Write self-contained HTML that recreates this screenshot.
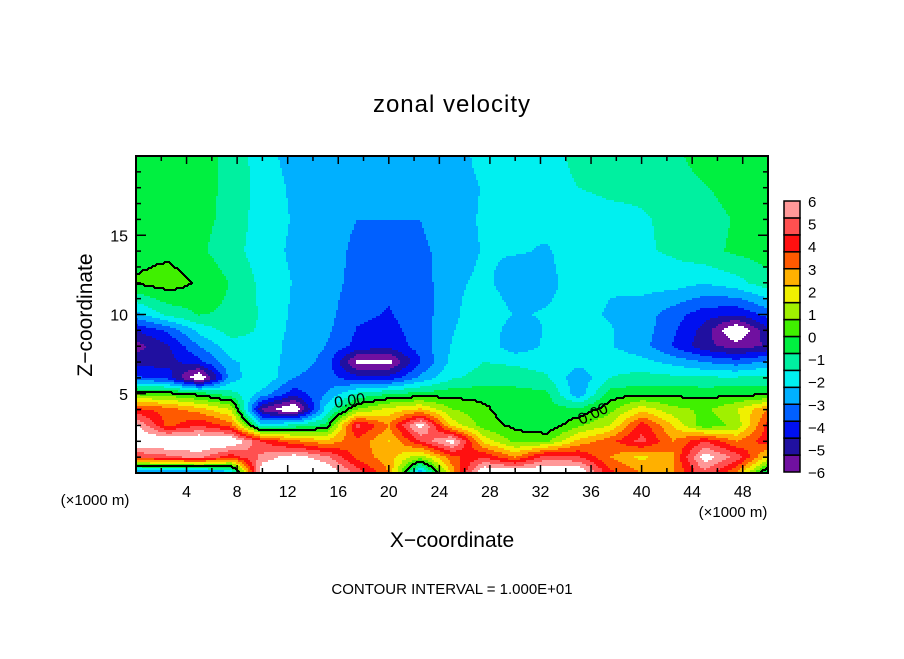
<!DOCTYPE html>
<html><head><meta charset="utf-8">
<style>
body{margin:0;background:#fff;}
svg text{font-family:"Liberation Sans",sans-serif;fill:#000;}
</style></head>
<body>
<svg id="chart" width="904" height="654" viewBox="0 0 904 654" xmlns="http://www.w3.org/2000/svg">
<rect width="904" height="654" fill="#fff"/>
<text x="452" y="112" font-size="24" text-anchor="middle" letter-spacing="1">zonal velocity</text>
<g id="field"></g>
<path id="zero" fill="none" stroke="#000" stroke-width="2"/>
<text x="335" y="408" font-size="16" transform="rotate(-8 335 408)">0.00</text>
<text x="581" y="425" font-size="16" transform="rotate(-25 581 425)">0.00</text>
<rect x="136" y="156" width="632" height="317" fill="none" stroke="#000" stroke-width="2"/>
<g id="ticks"></g>
<g id="xlabels"></g>
<g id="ylabels"></g>
<text x="452" y="547" font-size="21" text-anchor="middle">X−coordinate</text>
<text x="92" y="315" font-size="21" text-anchor="middle" transform="rotate(-90 92 315)">Z−coordinate</text>
<text x="95" y="505" font-size="15" text-anchor="middle">(×1000 m)</text>
<text x="733" y="517" font-size="15" text-anchor="middle">(×1000 m)</text>
<text x="452" y="594" font-size="15" text-anchor="middle">CONTOUR INTERVAL = 1.000E+01</text>
<g id="cbar"></g>
</svg>
<script>
const xs=[0,2.5,5,7.5,10,12.5,15,17.5,20,22.5,25,27.5,30,32.5,35,37.5,40,42.5,45,47.5,50];
const zs=[0,1,2,3,4,5,6,7,8,9,10,12,14,16,18,20];
const field=[
[-4,-4,-4,-3,7,7,7,5,3,-3,2.5,7,7,7,7,4,3,3,5,3,-1],
[4.5,5,5.5,4,5.5,6.5,5.5,3.5,2.6,1,3.5,4.5,3,5,4.6,3,2,3,6.5,5,2],
[7,7,7,7,4.5,3.2,2.5,3.5,2.2,4.5,6.5,2,0.5,0.6,2.5,3.5,4.8,3,4.5,3,4.2],
[6.2,3.5,4.5,3.4,-2,-1.2,-0.6,4.8,3,6.5,2,0.4,-0.2,-0.6,0.6,1.5,4.2,2.2,0.2,1,4],
[4,3.4,2.6,1.5,-5.5,-7,-2,0.8,1.8,2.4,0.8,0.2,-0.6,-0.4,-0.6,0.5,2,1,0.6,1.5,3],
[0.5,0.3,-0.3,-1.2,-2.5,-4.2,-3,-1.4,-0.8,-0.5,-0.3,-0.3,-0.4,-0.6,-2.8,-0.4,-0.2,-0.2,-0.3,-0.2,-0.2],
[-3.6,-4,-7,-2.6,-1.6,-3,-3.4,-4.2,-4.2,-2.8,-1.6,-1.2,-1.2,-1.4,-2.8,-1.5,-1.2,-1.3,-1.4,-1.4,-1.2],
[-4.8,-4.8,-4,-2.4,-1.8,-2.6,-3.2,-6.3,-6.3,-3.8,-2,-1.5,-1.6,-1.8,-2,-1.8,-2,-2.5,-3,-3.4,-2.8],
[-5.6,-4.6,-3,-1.8,-1.7,-2.6,-3,-4,-4.3,-3.4,-2.2,-1.7,-2.8,-2.1,-1.8,-2.2,-2.7,-3.8,-5,-5.6,-5.2],
[-4.5,-3.6,-2,-1.2,-1.6,-2.5,-2.8,-3.8,-4,-3.4,-2.3,-1.8,-2.6,-2.2,-2,-2.2,-2.6,-3.6,-4.8,-7,-4.6],
[-2.5,-1.3,-0.7,-0.9,-1.6,-2.4,-2.7,-3.6,-3.8,-3.4,-2.4,-1.8,-2.3,-2.2,-2.1,-2.3,-2.6,-3.4,-4.2,-4.4,-3.5],
[0.1,0.4,-0.1,-0.8,-1.7,-2.3,-2.6,-3.3,-3.6,-3.4,-2.4,-2.1,-2.6,-2.4,-2,-2.2,-2,-1.9,-2.2,-1.8,-1],
[-0.3,-0.2,-0.6,-1.2,-1.9,-2.4,-2.6,-3.2,-3.4,-3.2,-2.6,-2.2,-2.2,-2.3,-2,-1.8,-1.6,-1.4,-1,-0.6,-0.4],
[-0.3,-0.3,-0.5,-1,-1.9,-2.3,-2.6,-3,-3,-3,-2.4,-2.2,-2.2,-2.1,-2,-1.8,-1.6,-1.3,-1,-0.7,-0.5],
[-0.2,-0.2,-0.4,-1,-1.8,-2.4,-2.6,-2.6,-2.6,-2.6,-2.6,-2.2,-2,-2,-1.5,-1.3,-1.3,-1.2,-0.8,-0.5,-0.4],
[-0.3,-0.3,-0.4,-1,-1.9,-2.6,-2.6,-2.6,-2.6,-2.6,-2.6,-2,-1.9,-1.9,-1.2,-1.2,-1.2,-1,-0.3,-0.3,-0.3]
];
const cbColors=["#7010a0","#2010a0","#0010f0","#0060ff","#00b0ff","#00f0f0","#00f0a0","#00f040","#40f000","#a0f000","#f0f000","#ffb000","#ff5a00","#ff1010","#ff5050","#ff9898"];
const cbLabels=["6","5","4","3","2","1","0","−1","−2","−3","−4","−5","−6"];
const xTicks=[4,8,12,16,20,24,28,32,36,40,44,48];
const yTicks=[5,10,15];

const NS="http://www.w3.org/2000/svg";
const X0=136,X1=768,Y0=156,Y1=473;
const sx=x=>X0+(x/50)*(X1-X0);
const sy=z=>Y1-(z/20)*(Y1-Y0);
function mk(t,a){const e=document.createElementNS(NS,t);for(const k in a)e.setAttribute(k,a[k]);return e;}
function idx(arr,v){let i=0;while(i<arr.length-2&&v>arr[i+1])i++;return i;}
function val(x,z){const i=idx(xs,x),j=idx(zs,z);
 const tx=Math.max(0,Math.min(1,(x-xs[i])/(xs[i+1]-xs[i]))),tz=Math.max(0,Math.min(1,(z-zs[j])/(zs[j+1]-zs[j])));
 const a=field[j][i],b=field[j][i+1],c=field[j+1][i],d=field[j+1][i+1];
 return (a*(1-tx)+b*tx)*(1-tz)+(c*(1-tx)+d*tx)*tz;}
function colorOf(v){if(v>6||v<-6)return "#ffffff";let k=Math.floor((v+6)/0.75);k=Math.max(0,Math.min(15,k));return cbColors[k];}
const C=2,nx=Math.ceil((X1-X0)/C),nz=Math.ceil((Y1-Y0)/C);
const g=document.getElementById('field');
const grid=[];
for(let r=0;r<nz;r++){grid.push([]);for(let c=0;c<nx;c++){
 const px=X0+c*C+C/2,py=Y0+r*C+C/2;
 grid[r].push(val((px-X0)/(X1-X0)*50,(Y1-py)/(Y1-Y0)*20));}}
for(let r=0;r<nz;r++){let c=0;while(c<nx){const col=colorOf(grid[r][c]);let e=c+1;while(e<nx&&colorOf(grid[r][e])===col)e++;
 const rc=mk('rect',{x:X0+c*C,y:Y0+r*C,width:Math.min((e-c)*C,X1-X0-c*C)+0.4,height:Math.min(C,Y1-Y0-r*C)+0.4,fill:col});
 
 
 g.appendChild(rc);c=e;}}
let d="";
for(let r=0;r<nz;r++)for(let c=0;c<nx;c++){const s=grid[r][c]>=0;
 if(c+1<nx&&(grid[r][c+1]>=0)!==s){const x=X0+(c+1)*C;d+=`M${x} ${Y0+r*C}V${Math.min(Y1,Y0+(r+1)*C)}`;}
 if(r+1<nz&&(grid[r+1][c]>=0)!==s){const y=Y0+(r+1)*C;d+=`M${X0+c*C} ${y}H${Math.min(X1,X0+(c+1)*C)}`;}}
document.getElementById('zero').setAttribute('d',d);
const tk=document.getElementById('ticks');
for(let x=2;x<50;x+=2){const L=x%4===0?8:5;
 tk.appendChild(mk('line',{x1:sx(x),x2:sx(x),y1:Y1,y2:Y1-L,stroke:'#000','stroke-width':1.5}));
 tk.appendChild(mk('line',{x1:sx(x),x2:sx(x),y1:Y0,y2:Y0+L,stroke:'#000','stroke-width':1.5}));}
for(let z=1;z<20;z++){const L=z%5===0?10:5;
 tk.appendChild(mk('line',{x1:X0,x2:X0+L,y1:sy(z),y2:sy(z),stroke:'#000','stroke-width':1.5}));
 tk.appendChild(mk('line',{x1:X1,x2:X1-L,y1:sy(z),y2:sy(z),stroke:'#000','stroke-width':1.5}));}
const xl=document.getElementById('xlabels');
xTicks.forEach(v=>{const t=mk('text',{x:sx(v),y:497,'font-size':16,'text-anchor':'middle'});t.textContent=v;
 
 
 xl.appendChild(t);});
const yl=document.getElementById('ylabels');
yTicks.forEach(v=>{const t=mk('text',{x:128,y:sy(v)+6,'font-size':16,'text-anchor':'end'});t.textContent=v;
 
 
 yl.appendChild(t);});
const cb=document.getElementById('cbar');
const CY0=201,CY1=472,bh=(CY1-CY0)/16;
for(let k=0;k<16;k++){const y=CY1-(k+1)*bh;
 const r=mk('rect',{x:784,y:y,width:16,height:bh,fill:cbColors[k],stroke:'#000','stroke-width':1.5});
 
 
 cb.appendChild(r);}
cbLabels.forEach((s,i)=>{const y=CY0+i*(CY1-CY0)/12;
 const t=mk('text',{x:808,y:y+6,'font-size':15});t.textContent=s;
 
 
 cb.appendChild(t);});
</script>
</body></html>
